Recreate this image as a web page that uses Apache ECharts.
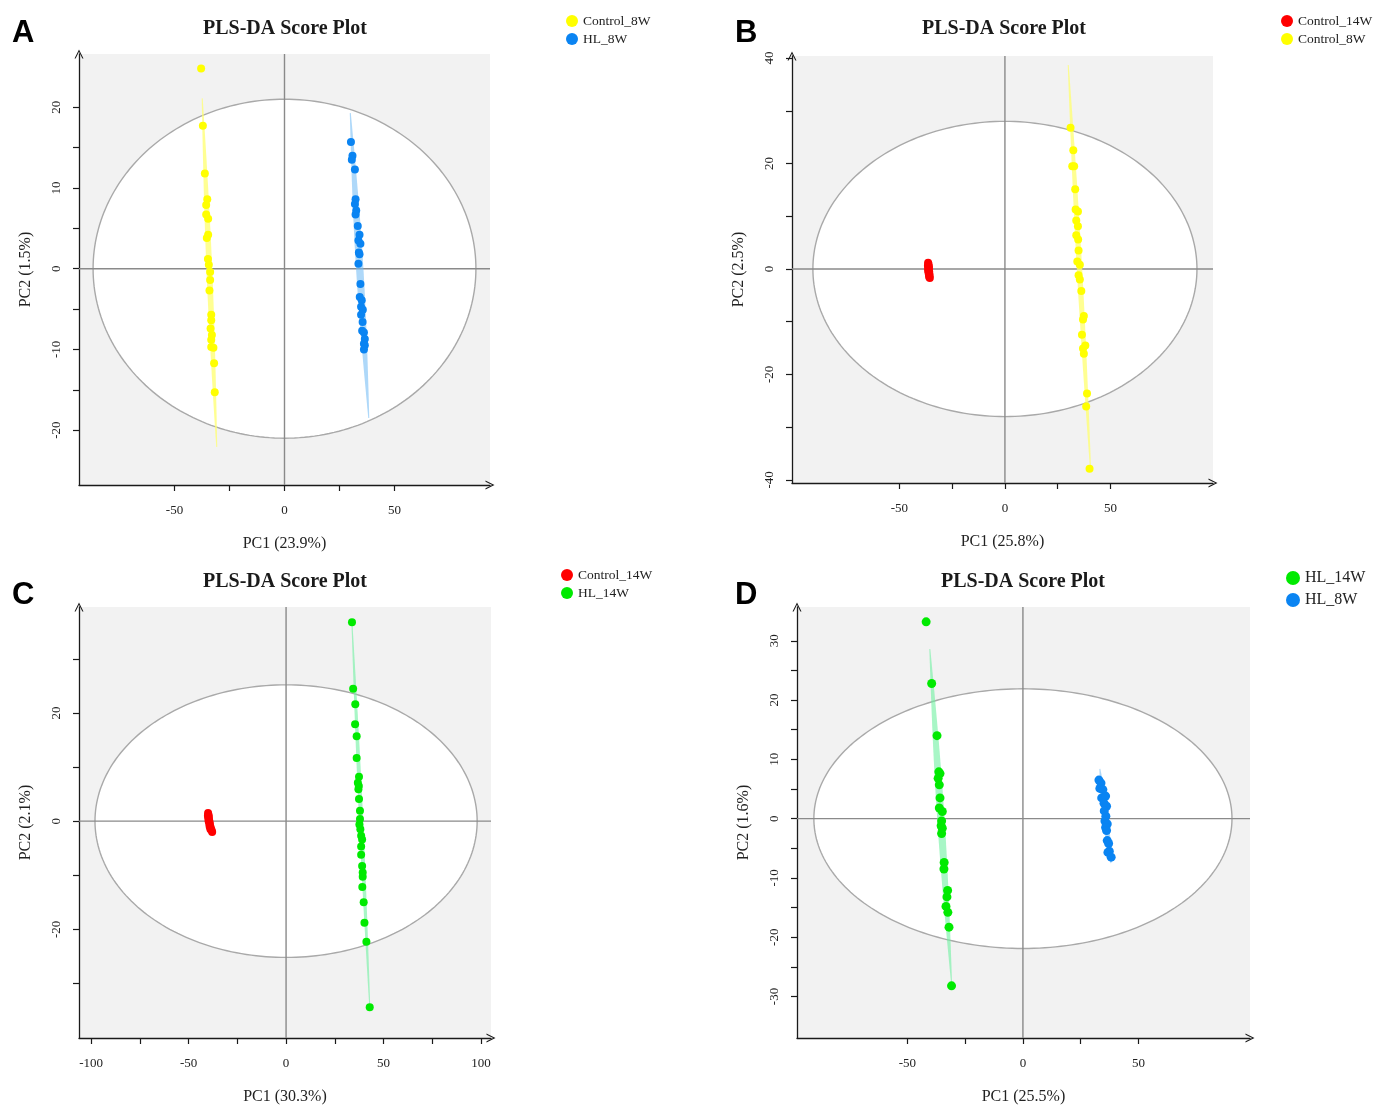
<!DOCTYPE html>
<html><head><meta charset="utf-8">
<script src="https://cdn.jsdelivr.net/npm/echarts@6/dist/echarts.min.js"></script>
<style>html,body{margin:0;padding:0;background:#fff}#c{width:1373px;height:1106px}</style>
</head><body><div id="c"></div>
<script>
// ---------- Panel A ----------
const A_control8W = [[-37.9,24.8],[-37.1,17.7],[-36.2,11.8],[-35.1,8.6],[-35.6,7.9],[-35.6,6.7],[-34.7,6.2],[-34.7,4.2],[-35.3,3.8],[-34.8,1.2],[-34.4,0.5],[-33.8,-0.4],[-33.8,-1.4],[-34.1,-2.7],[-33.3,-5.7],[-33.3,-6.4],[-33.6,-7.4],[-33.0,-8.2],[-33.3,-8.8],[-33.3,-9.7],[-32.3,-9.8],[-32.0,-11.7],[-31.7,-15.3]];
const A_hl8W = [[30.2,15.7],[30.9,14.0],[30.6,13.5],[32.0,12.3],[32.3,8.6],[32.0,8.0],[32.6,7.2],[32.3,6.7],[33.3,5.3],[34.1,4.2],[33.6,3.5],[34.5,3.1],[33.8,2.0],[34.1,1.8],[33.6,0.6],[34.5,-1.9],[34.2,-3.5],[35.1,-3.9],[34.8,-4.7],[35.6,-5.1],[34.8,-5.7],[35.5,-6.6],[35.3,-7.7],[36.1,-7.9],[36.5,-8.7],[36.1,-9.3],[36.5,-9.5],[36.1,-10.0]];
const A_bandControl8W = [[-37.4,21.1,-30.8,-22.1]];
const A_bandHL8W = [[29.9,19.3,38.3,-18.5]];
const A_ellipse = [[0,0,87,21]];
const A_xRange = [-93.4,93.4], A_yRange = [-26.8,26.6];
const A_xTicks = [-50,-25,0,25,50], A_xLabels = [-50,0,50];
const A_yTicks = [-20,-15,-10,-5,0,5,10,15,20], A_yLabels = [-20,-10,0,10,20];
const A_xName = 'PC1 (23.9%)', A_yName = 'PC2 (1.5%)';

// ---------- Panel B ----------
const B_control14W = [[-36.4,1.2],[-36.2,0.9],[-36.5,0.6],[-36.0,0.4],[-36.3,0.2],[-36.1,-0.1],[-36.4,-0.3],[-35.9,-0.5],[-36.2,-0.7],[-35.8,-0.9],[-36.0,-1.1],[-35.7,-1.3],[-35.9,-1.5],[-35.6,-1.7],[-36.1,0.0]];
const B_control8W = [[31.1,26.8],[32.4,22.5],[31.9,19.5],[32.8,19.5],[33.3,15.1],[33.5,11.3],[34.6,10.9],[33.8,9.2],[34.6,8.1],[33.8,6.4],[34.7,5.6],[34.9,3.5],[34.3,1.4],[35.5,0.8],[34.9,-1.2],[35.5,-2.0],[36.2,-4.2],[37.4,-8.9],[37.0,-9.6],[36.5,-12.5],[38.1,-14.5],[37.0,-15.1],[37.4,-16.1],[38.9,-23.6],[38.5,-26.1],[40.1,-37.9]];
const B_bandControl8W = [[30.0,38.7,40.6,-38.2]];
const B_ellipse = [[0,0,91,28]];
const B_xRange = [-100.9,98.6], B_yRange = [-40.6,40.4];
const B_xTicks = [-50,-25,0,25,50], B_xLabels = [-50,0,50];
const B_yTicks = [-40,-30,-20,-10,0,10,20,30,40], B_yLabels = [-40,-20,0,20,40];
const B_xName = 'PC1 (25.8%)', B_yName = 'PC2 (2.5%)';

// ---------- Panel C ----------
const C_control14W = [[-40.0,1.5],[-39.8,1.2],[-40.1,1.0],[-39.6,0.8],[-39.9,0.5],[-39.5,0.3],[-39.7,0.0],[-39.2,-0.2],[-39.4,-0.5],[-39.0,-0.7],[-39.2,-1.0],[-38.6,-1.2],[-38.8,-1.5],[-38.2,-1.7],[-37.9,-2.0]];
const C_hl14W = [[33.8,36.8],[34.4,24.5],[35.5,21.6],[35.4,17.9],[36.2,15.7],[36.2,11.7],[37.4,8.2],[36.8,7.1],[37.3,6.5],[37.1,5.9],[37.4,4.1],[37.9,1.9],[37.9,0.4],[37.6,-0.6],[38.1,-1.5],[38.5,-2.7],[39.0,-3.4],[38.5,-4.7],[38.5,-6.2],[39.0,-8.3],[39.3,-9.5],[39.3,-10.3],[39.1,-12.2],[39.8,-15.0],[40.2,-18.8],[41.2,-22.3],[42.9,-34.4]];
const C_bandHL14W = [[33.8,36.5,42.9,-34.2]];
const C_ellipse = [[0,0,98,25.2]];
const C_xRange = [-106.2,105.1], C_yRange = [-40.1,39.6];
const C_xTicks = [-100,-75,-50,-25,0,25,50,75,100], C_xLabels = [-100,-50,0,50,100];
const C_yTicks = [-30,-20,-10,0,10,20,30], C_yLabels = [-20,0,20];
const C_xName = 'PC1 (30.3%)', C_yName = 'PC2 (2.1%)';

// ---------- Panel D ----------
const D_hl14W = [[-41.9,33.2],[-39.5,22.8],[-37.2,14.0],[-36.4,7.9],[-35.9,7.6],[-36.7,6.8],[-36.2,5.7],[-35.9,3.5],[-36.2,1.8],[-34.9,1.2],[-35.2,-0.4],[-35.4,-1.2],[-34.9,-1.6],[-35.2,-2.5],[-34.1,-7.4],[-34.2,-8.5],[-32.6,-12.1],[-32.9,-13.2],[-33.3,-14.8],[-32.5,-15.8],[-32.0,-18.3],[-30.9,-28.2]];
const D_hl8W = [[32.9,6.5],[33.8,6.0],[33.3,5.1],[34.6,4.9],[34.1,3.5],[35.8,3.8],[35.1,2.6],[36.2,2.1],[35.2,1.3],[35.9,0.4],[35.5,-0.4],[36.5,-0.9],[35.8,-1.5],[36.2,-2.0],[36.5,-3.7],[37.1,-4.2],[37.4,-5.5],[36.8,-5.7],[38.2,-6.5]];
const D_bandHL14W = [[-40.3,28.6,-30.9,-27.7]];
const D_bandHL8W = [[33.3,8.4,38.1,-7.5]];
const D_ellipse = [[0,0,90.5,21.9]];
const D_xRange = [-97.8,98.3], D_yRange = [-37.0,35.7];
const D_xTicks = [-50,-25,0,25,50], D_xLabels = [-50,0,50];
const D_yTicks = [-30,-25,-20,-15,-10,-5,0,5,10,15,20,25,30], D_yLabels = [-30,-20,-10,0,10,20,30];
const D_xName = 'PC1 (25.5%)', D_yName = 'PC2 (1.6%)';

const titleText = 'PLS-DA Score Plot';
const panelLetters = ['A','B','C','D'];
const legendA = ['Control_8W','HL_8W'];
const legendB = ['Control_14W','Control_8W'];
const legendC = ['Control_14W','HL_14W'];
const legendD = ['HL_14W','HL_8W'];

// ---------- styling ----------
const COL = {Control_8W:'#ffff00', HL_8W:'#0a84f2', Control_14W:'#ff0000', HL_14W:'#00ea00'};
const BAND = {Control_8W:'rgba(255,255,110,0.75)', HL_8W:'rgba(120,190,245,0.6)', HL_14W:'rgba(110,240,160,0.6)'};
const SERIF = '"Liberation Serif","Times New Roman",serif';
const SANS = '"Liberation Sans",Arial,sans-serif';
const ARROW = 'path://M5,0 L10,10 L8.7,10 L5,2.6 L1.3,10 L0,10 Z';

const panels = [
  {grid:{left:79,top:54,width:411,height:431}, xr:A_xRange, yr:A_yRange, xt:A_xTicks, xl:A_xLabels, yt:A_yTicks, yl:A_yLabels, xn:A_xName, yn:A_yName, ell:A_ellipse,
   bands:[[A_bandControl8W,'Control_8W',2.4],[A_bandHL8W,'HL_8W',3.2]], pts:[['Control_8W',A_control8W],['HL_8W',A_hl8W]], ps:8,
   legend:{data:legendA,left:566,top:14,size:12,font:13.5}, title:[285,29], letter:[12,33]},
  {grid:{left:792,top:56,width:421,height:427}, xr:B_xRange, yr:B_yRange, xt:B_xTicks, xl:B_xLabels, yt:B_yTicks, yl:B_yLabels, xn:B_xName, yn:B_yName, ell:B_ellipse,
   bands:[[B_bandControl8W,'Control_8W',2.2]], pts:[['Control_14W',B_control14W],['Control_8W',B_control8W]], ps:8,
   legend:{data:legendB,left:1281,top:14,size:12,font:13.5}, title:[1004,29], letter:[735,33]},
  {grid:{left:79,top:607,width:412,height:433}, xr:C_xRange, yr:C_yRange, xt:C_xTicks, xl:C_xLabels, yt:C_yTicks, yl:C_yLabels, xn:C_xName, yn:C_yName, ell:C_ellipse,
   bands:[[C_bandHL14W,'HL_14W',1.6]], pts:[['Control_14W',C_control14W],['HL_14W',C_hl14W]], ps:8,
   legend:{data:legendC,left:561,top:568,size:12,font:13.5}, title:[285,582], letter:[12,595]},
  {grid:{left:797,top:607,width:453,height:439}, xr:D_xRange, yr:D_yRange, xt:D_xTicks, xl:D_xLabels, yt:D_yTicks, yl:D_yLabels, xn:D_xName, yn:D_yName, ell:D_ellipse,
   bands:[[D_bandHL14W,'HL_14W',3.2],[D_bandHL8W,'HL_8W',2.4]], pts:[['HL_14W',D_hl14W],['HL_8W',D_hl8W]], ps:9,
   legend:{data:legendD,left:1286,top:570,size:14,font:16}, title:[1023,582], letter:[735,595]}
];

function ellipseItem(params, api){
  const cs = params.coordSys;
  const c = api.coord([api.value(0), api.value(1)]);
  const rx = api.size([api.value(2),0])[0];
  const ry = api.size([0,api.value(3)])[1];
  const pts = [];
  for (let i=0;i<=240;i++){ const t=i/240*2*Math.PI; pts.push([c[0]+rx*Math.cos(t), c[1]+ry*Math.sin(t)]); }
  return {type:'group', children:[
    {type:'polygon', shape:{points:pts}, style:{fill:'#ffffff', stroke:'#a9a9a9', lineWidth:1.4}},
    {type:'line', shape:{x1:cs.x, y1:c[1], x2:cs.x+cs.width, y2:c[1]}, style:{stroke:'#8a8a8a', lineWidth:1.4}},
    {type:'line', shape:{x1:c[0], y1:cs.y, x2:c[0], y2:cs.y+cs.height}, style:{stroke:'#8a8a8a', lineWidth:1.4}}
  ]};
}
function bandFactory(color, halfW){
  return function(params, api){
    const p1 = api.coord([api.value(0),api.value(1)]);
    const p2 = api.coord([api.value(2),api.value(3)]);
    const dx=p2[0]-p1[0], dy=p2[1]-p1[1], L=Math.hypot(dx,dy);
    const nx=-dy/L, ny=dx/L;
    const left=[], right=[]; const N=30;
    for (let i=0;i<=N;i++){
      const t=i/N; const w=0.5+halfW*Math.sin(Math.PI*t);
      const px=p1[0]+dx*t, py=p1[1]+dy*t;
      left.push([px+nx*w, py+ny*w]); right.unshift([px-nx*w, py-ny*w]);
    }
    return {type:'polygon', shape:{points:left.concat(right)}, style:{fill:color}};
  };
}

const option = {animation:false, backgroundColor:'#ffffff', grid:[], xAxis:[], yAxis:[], series:[], legend:[], graphic:[]};

panels.forEach((p,i)=>{
  option.grid.push(Object.assign({show:true, backgroundColor:'#f2f2f2', borderWidth:0}, p.grid));
  const axisLine = {show:true, onZero:false, symbol:['none',ARROW], symbolSize:[9,11], lineStyle:{color:'#1a1a1a', width:1.3}};
  option.xAxis.push({gridIndex:i, type:'value', min:p.xr[0], max:p.xr[1], axisLine:axisLine,
    axisTick:{show:true, customValues:p.xt, length:6, lineStyle:{color:'#1a1a1a', width:1.2}},
    axisLabel:{customValues:p.xl, fontFamily:SERIF, fontSize:13, color:'#222', margin:19},
    splitLine:{show:false}, name:p.xn, nameLocation:'middle', nameGap:51,
    nameTextStyle:{fontFamily:SERIF, fontSize:16, color:'#222'}});
  option.yAxis.push({gridIndex:i, type:'value', min:p.yr[0], max:p.yr[1], axisLine:axisLine,
    axisTick:{show:true, customValues:p.yt, length:6, lineStyle:{color:'#1a1a1a', width:1.2}},
    axisLabel:{customValues:p.yl, rotate:90, fontFamily:SERIF, fontSize:13, color:'#222', margin:16},
    splitLine:{show:false}, name:p.yn, nameLocation:'middle', nameGap:45,
    nameTextStyle:{fontFamily:SERIF, fontSize:16, color:'#222'}});
  option.series.push({type:'custom', xAxisIndex:i, yAxisIndex:i, z:1, silent:true, data:p.ell, renderItem:ellipseItem});
  p.bands.forEach(b=>{
    option.series.push({type:'custom', xAxisIndex:i, yAxisIndex:i, z:2, silent:true, data:b[0], renderItem:bandFactory(BAND[b[1]], b[2])});
  });
  p.pts.forEach(s=>{
    option.series.push({type:'scatter', name:s[0], xAxisIndex:i, yAxisIndex:i, z:3, data:s[1], symbol:'circle', symbolSize:p.ps,
      itemStyle:{color:COL[s[0]], opacity:1}});
  });
  option.legend.push({data:p.legend.data, orient:'vertical', left:p.legend.left, top:p.legend.top, icon:'circle',
    itemWidth:p.legend.size, itemHeight:p.legend.size, itemGap:p.legend.size===12?4:6, padding:0,
    textStyle:{fontFamily:SERIF, fontSize:p.legend.font, color:'#222'}});
  option.graphic.push({type:'text', x:p.title[0], y:p.title[1], style:{text:titleText, fill:'#1a1a1a', font:'bold 20px '+SERIF, textAlign:'center', textVerticalAlign:'middle'}});
  option.graphic.push({type:'text', x:p.letter[0], y:p.letter[1], style:{text:panelLetters[i], fill:'#000', font:'bold 31px '+SANS, textAlign:'left', textVerticalAlign:'middle'}});
});

const chart = echarts.init(document.getElementById('c'), null, {renderer:'canvas'});
chart.setOption(option);
</script></body></html>
